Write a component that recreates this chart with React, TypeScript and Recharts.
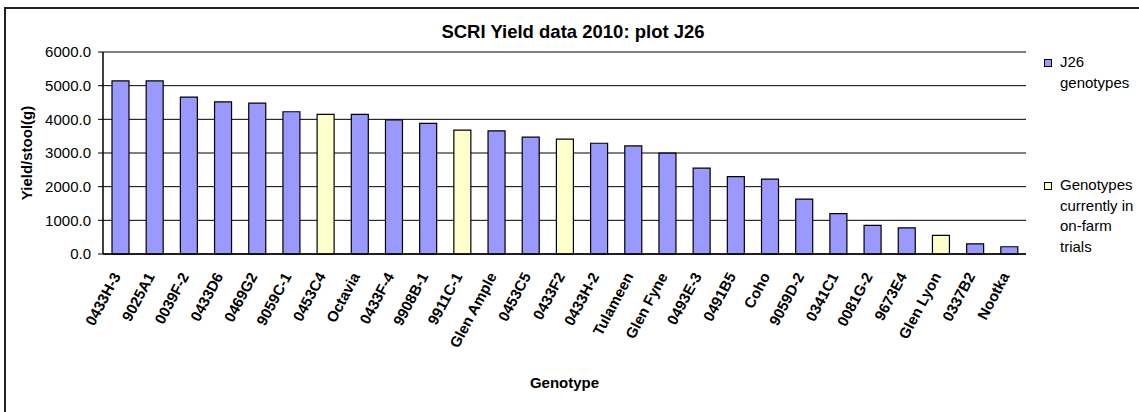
import { Bar, BarChart, CartesianGrid, Cell, ReferenceLine, XAxis, YAxis } from "recharts";

const genotypes = [
  "0433H-3", "9025A1", "0039F-2", "0433D6", "0469G2", "9059C-1", "0453C4", "Octavia",
  "0433F-4", "9908B-1", "9911C-1", "Glen Ample", "0453C5", "0433F2", "0433H-2", "Tulameen",
  "Glen Fyne", "0493E-3", "0491B5", "Coho", "9059D-2", "0341C1", "0081G-2", "9673E4",
  "Glen Lyon", "0337B2", "Nootka",
];
const yields = [
  5140, 5140, 4660, 4520, 4480, 4225, 4150, 4150, 3980, 3880, 3680, 3660, 3470, 3410,
  3290, 3210, 2995, 2550, 2300, 2225, 1630, 1200, 850, 775, 555, 300, 215,
];
const onFarm = [
  false, false, false, false, false, false, true, false, false, false, true, false, false, true,
  false, false, false, false, false, false, false, false, false, false, true, false, false,
];
const yTicks = [0, 1000, 2000, 3000, 4000, 5000, 6000];
const edgeTicks = genotypes.map((_, i) => i).concat(genotypes.length);

const legendItems = [
  { label: ["J26", "genotypes"], fill: "#9999ff" },
  { label: ["Genotypes", "currently in", "on-farm", "trials"], fill: "#ffffcc" },
];

const FONT = '"Liberation Sans", Arial, sans-serif';
const BLUE = "#9999ff";
const YELLOW = "#ffffcc";

const data = genotypes.map((g, i) => ({ genotype: g, yield: yields[i], slot: i + 0.5 }));

function GenotypeTick({ x, y, payload }: any) {
  const ax = x + 1;
  const ay = y + 22;
  return (
    <text
      x={ax}
      y={ay}
      transform={`rotate(-62 ${ax} ${ay})`}
      textAnchor="end"
      fontSize={15}
      fontWeight="bold"
      fontFamily={FONT}
      fill="#000"
    >
      {payload.value}
    </text>
  );
}

function YTitle(props: any) {
  const vb = props.viewBox;
  const cy = vb.y + vb.height / 2;
  return (
    <text
      x={26}
      y={cy}
      transform={`rotate(-90 26 ${cy})`}
      textAnchor="middle"
      dominantBaseline="central"
      fontSize={15}
      fontWeight="bold"
      fontFamily={FONT}
      fill="#000"
    >
      Yield/stool(g)
    </text>
  );
}

export default function App() {
  return (
    <div style={{ position: "relative", width: 1139, height: 412, overflow: "hidden", background: "#fff", fontFamily: FONT }}>
      <style>{`body{margin:0}`}</style>
      <div
        style={{
          position: "absolute",
          left: 4,
          top: 7,
          width: 1200,
          height: 500,
          borderLeft: "2px solid #222",
          borderTop: "2px solid #222",
        }}
      />
      <div
        style={{
          position: "absolute",
          left: 0,
          width: 1146,
          top: 21,
          textAlign: "center",
          fontSize: 18.5,
          fontWeight: "bold",
          lineHeight: "22px",
        }}
      >
        SCRI Yield data 2010: plot J26
      </div>

      <div style={{ position: "absolute", left: 0, top: 0 }}>
        <BarChart width={1139} height={412} data={data} margin={{ top: 52, right: 113, bottom: 0, left: 0 }}>
          <CartesianGrid xAxisId="cat" yAxisId="left" vertical={false} stroke="#000" strokeWidth={1} />
          <XAxis
            xAxisId="edges"
            type="number"
            dataKey="slot"
            domain={[0, genotypes.length]}
            ticks={edgeTicks}
            interval={0}
            height={0}
            axisLine={false}
            tickLine={{ stroke: "#000" }}
            tickSize={6}
            tickFormatter={() => ""}
          />
          <XAxis
            xAxisId="cat"
            dataKey="genotype"
            interval={0}
            height={158}
            tickLine={false}
            tickSize={0}
            tickMargin={0}
            axisLine={{ stroke: "#000", strokeWidth: 1.5 }}
            tick={<GenotypeTick />}
            label={{
              value: "Genotype",
              position: "insideBottom",
              offset: 24,
              fontSize: 15,
              fontWeight: "bold",
              fill: "#000",
              fontFamily: FONT,
            }}
          />
          <YAxis
            yAxisId="left"
            width={103}
            domain={[0, 6000]}
            ticks={yTicks}
            interval={0}
            tickFormatter={(v: number) => v.toFixed(1)}
            tick={{ fontSize: 15, fill: "#000", fontFamily: FONT }}
            tickLine={{ stroke: "#000" }}
            tickSize={5}
            tickMargin={7}
            axisLine={{ stroke: "#000", strokeWidth: 1.5 }}
            label={YTitle}
          />
          <YAxis
            yAxisId="right"
            orientation="right"
            width={0}
            domain={[0, 6000]}
            tick={false}
            tickLine={false}
            axisLine={{ stroke: "#808080", strokeWidth: 2 }}
          />
          <ReferenceLine xAxisId="cat" yAxisId="left" y={6000} stroke="#808080" strokeWidth={2} />
          <Bar
            xAxisId="cat"
            yAxisId="left"
            dataKey="yield"
            barSize={17}
            stroke="#000"
            strokeWidth={1.2}
            isAnimationActive={false}
          >
            {data.map((d, i) => (
              <Cell key={d.genotype} fill={onFarm[i] ? YELLOW : BLUE} />
            ))}
          </Bar>
        </BarChart>
      </div>

      {legendItems.map((item, k) => (
        <div
          key={k}
          style={{ position: "absolute", left: 1044, top: k === 0 ? 52 : 175, display: "flex", alignItems: "flex-start" }}
        >
          <div
            style={{
              width: 6,
              height: 6,
              marginTop: 7,
              border: "1px solid #000",
              background: item.fill,
            }}
          />
          <div style={{ marginLeft: 8, fontSize: 15, lineHeight: "20.5px", color: "#000" }}>
            {item.label.map((l) => (
              <div key={l}>{l}</div>
            ))}
          </div>
        </div>
      ))}
    </div>
  );
}
